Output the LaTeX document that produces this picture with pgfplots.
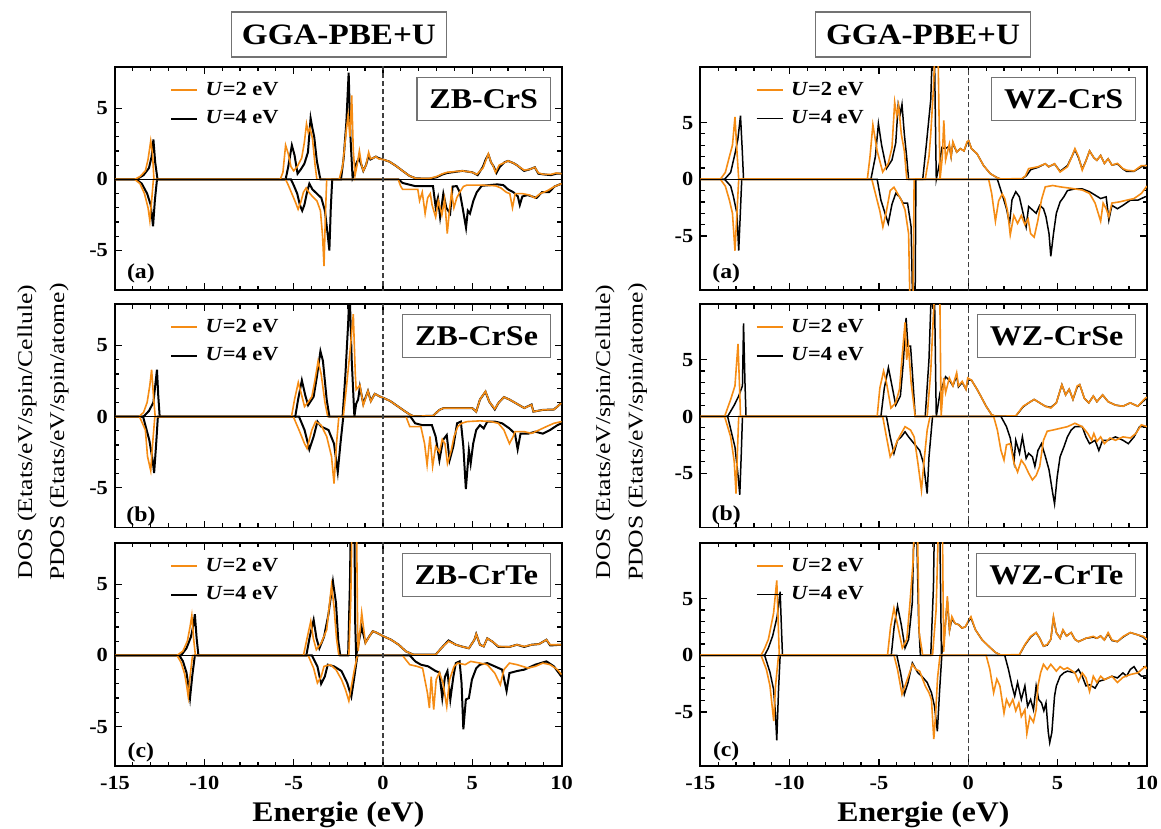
\documentclass[border=0pt]{standalone}
\usepackage{fontspec}
\setmainfont{Liberation Serif}[FakeStretch=1.12]
\usepackage{graphicx}
\usepackage{pgfplots}
\pgfplotsset{compat=1.18}
\definecolor{orng}{RGB}{245,140,20}

\pgfplotsset{
  ob/.style={orng, line width=0.8pt},
  obl/.style={orng, line width=1.1pt},
  kb/.style={black, line width=1pt},
  kbr/.style={black, line width=0.75pt},
  dospanel/.style={
    scale only axis, width=223.3pt, height=111.7pt,
    anchor=north west,
    xmin=-15, xmax=10,
    xtick={-15,-10,-5,0,5,10}, minor x tick num=4,
    ytick={-5,0,5}, minor y tick num=4,
    tick align=inside, tick pos=both,
    major tick length=3.5pt, minor tick length=2.2pt,
    every tick/.style={black, line width=0.6pt},
    axis line style={line width=0.9pt},
    ticklabel style={font=\fontsize{10}{12}\selectfont\bfseries},
    /pgf/number format/assume math mode=true,
    xticklabel style={yshift=-3.8pt, inner ysep=1pt},
    legend style={draw=none, fill=none, at={(0.1225,1)}, anchor=north west,
      inner xsep=0pt, inner ysep=5.3pt, row sep=2.2pt,
      font=\fontsize{10}{12}\selectfont\bfseries,
      nodes={inner ysep=2pt, inner xsep=3.7pt, text depth=0.15em}},
    legend cell align=left,
    legend image code/.code={\draw[#1] (0pt,0pt) -- (13pt,0pt);},
  },
  leftcol/.style={dospanel, ymin=-7.8, ymax=7.9},
  rightcol/.style={dospanel, ymin=-9.8, ymax=9.9},
  noxlabels/.style={xticklabels={}},
}

% reference lines: zero of the DOS and the Fermi level
\newcommand{\reflines}{%
  \addplot[black, line width=0.4pt, forget plot] coordinates {(-15,0) (10,0)};
  \addplot[black!75, line width=0.6pt, dash pattern=on 2.5pt off 1.5pt, forget plot] coordinates {(0,-12) (0,12)};
}
\newcommand{\panelbox}[1]{%
  \node[draw=black!55, line width=0.6pt, fill=white, anchor=north east,
    inner xsep=6.2pt, minimum height=21.5pt,
    font=\fontsize{14.3}{16}\selectfont\bfseries, xshift=-5.3pt, yshift=-5pt]
    at (rel axis cs:1,1) {#1};}
\newcommand{\panellabel}[2]{%
  \node[font=\fontsize{10.6}{12}\selectfont\bfseries, yshift=#2]
    at (rel axis cs:0.058,0) {#1};}
\newcommand{\ylab}[1]{\scalebox{1.093}[1]{#1}}

\begin{document}
\begin{tikzpicture}
\useasboundingbox (0,0) rectangle (580.5pt,414.5pt);

% ---------------- ZB-CrS ----------------
\begin{axis}[leftcol, noxlabels, at={(57.5pt,381pt)}]
\addplot[kb, forget plot] table[row sep=\\]{-15 0\\ -13.8 0\\ -13.4 0.3\\ -13.1 0.8\\ -12.95 1.6\\ -12.85 2.8\\ -12.75 1.2\\ -12.62 0\\ -5.45 0\\ -5.3 0.9\\ -5.1 2.4\\ -4.95 1.7\\ -4.78 0.4\\ -4.6 0.7\\ -4.4 1.1\\ -4.2 1.9\\ -4.05 4.3\\ -3.95 3.6\\ -3.85 3.0\\ -3.7 1.3\\ -3.55 0.3\\ -3.5 0\\ -2.35 0\\ -2.2 1.5\\ -2.05 4.0\\ -1.92 7.5\\ -1.82 3.0\\ -1.7 0.1\\ -1.6 0.4\\ -1.5 1.1\\ -1.35 1.5\\ -1.2 1.0\\ -1.1 0.6\\ -0.95 1.0\\ -0.8 1.7\\ -0.7 1.4\\ -0.55 1.5\\ -0.4 1.6\\ -0.25 1.5\\ 0 1.4\\ 0.36 1.25\\ 0.73 0.95\\ 1.1 0.6\\ 1.48 0.25\\ 1.85 0.07\\ 2.6 0.05\\ 3.0 0.15\\ 3.34 0.35\\ 3.6 0.45\\ 4.45 0.6\\ 5.0 0.5\\ 5.3 0.3\\ 5.6 0.9\\ 5.75 1.4\\ 5.9 1.75\\ 6.05 1.2\\ 6.2 0.9\\ 6.35 0.45\\ 6.55 0.9\\ 6.8 1.2\\ 7.0 1.3\\ 7.3 1.15\\ 7.5 1.0\\ 7.9 0.6\\ 8.2 0.7\\ 8.5 0.85\\ 8.7 0.4\\ 9.0 0.35\\ 9.4 0.3\\ 9.7 0.4\\ 10 0.4\\};
\addplot[kb, forget plot] table[row sep=\\]{-15 0\\ -13.8 0\\ -13.5 -0.3\\ -13.2 -1.0\\ -13.0 -1.8\\ -12.87 -3.3\\ -12.77 -1.5\\ -12.65 0\\ -5.15 0\\ -5.0 -0.4\\ -4.8 -1.0\\ -4.65 -1.8\\ -4.52 -2.2\\ -4.4 -1.8\\ -4.25 -0.9\\ -4.12 -0.3\\ -3.95 -0.7\\ -3.7 -1.0\\ -3.45 -1.3\\ -3.25 -2.2\\ -3.1 -3.8\\ -3.0 -5.0\\ -2.92 -2.0\\ -2.84 0\\ 0.87 0\\ 1.1 -0.25\\ 1.8 -0.47\\ 2.8 -0.47\\ 2.95 -1.95\\ 3.08 -1.3\\ 3.2 -2.65\\ 3.38 -1.0\\ 3.55 -2.0\\ 3.76 -2.4\\ 3.9 -0.5\\ 4.13 -0.47\\ 4.3 -0.9\\ 4.46 -2.0\\ 4.65 -3.4\\ 4.75 -2.2\\ 4.87 -2.4\\ 5.06 -1.5\\ 5.25 -0.9\\ 5.53 -0.45\\ 6.4 -0.35\\ 6.74 -0.4\\ 7.0 -0.7\\ 7.3 -0.9\\ 7.55 -1.2\\ 7.66 -1.8\\ 7.8 -1.2\\ 8.1 -1.1\\ 8.6 -1.3\\ 8.9 -0.9\\ 9.3 -0.9\\ 9.6 -0.5\\ 10 -0.3\\};
\addplot[ob, forget plot] table[row sep=\\]{-15 0\\ -13.9 0\\ -13.6 0.2\\ -13.3 0.6\\ -13.15 1.4\\ -13.0 2.7\\ -12.9 1.8\\ -12.82 0\\ -5.75 0\\ -5.6 0.5\\ -5.45 2.4\\ -5.3 1.8\\ -5.15 0.9\\ -5.0 0.6\\ -4.8 0.9\\ -4.55 1.5\\ -4.4 2.6\\ -4.28 3.9\\ -4.18 3.3\\ -4.08 3.6\\ -3.95 2.9\\ -3.8 1.0\\ -3.7 0\\ -2.45 0\\ -2.25 1.0\\ -2.05 3.5\\ -1.95 4.5\\ -1.85 3.0\\ -1.75 5.9\\ -1.66 2.0\\ -1.56 0.3\\ -1.45 1.0\\ -1.32 2.0\\ -1.2 1.0\\ -1.1 0.6\\ -0.95 1.0\\ -0.8 1.9\\ -0.7 1.45\\ -0.55 1.5\\ -0.4 1.6\\ -0.25 1.45\\ 0 1.4\\ 0.36 1.25\\ 0.73 0.95\\ 1.1 0.6\\ 1.48 0.25\\ 1.85 0.07\\ 2.6 0.07\\ 3.0 0.2\\ 3.34 0.4\\ 3.6 0.5\\ 4.45 0.6\\ 5.0 0.5\\ 5.25 0.35\\ 5.6 0.8\\ 5.75 1.3\\ 5.9 1.8\\ 6.05 1.2\\ 6.15 1.0\\ 6.3 0.5\\ 6.5 1.0\\ 6.75 1.15\\ 7.0 1.3\\ 7.3 1.15\\ 7.5 1.0\\ 7.9 0.65\\ 8.2 0.7\\ 8.5 0.85\\ 8.7 0.45\\ 9.0 0.35\\ 9.4 0.35\\ 9.7 0.45\\ 10 0.4\\};
\addplot[ob, forget plot] table[row sep=\\]{-15 0\\ -13.9 0\\ -13.6 -0.3\\ -13.35 -1.0\\ -13.15 -2.0\\ -13.05 -2.9\\ -12.95 -1.5\\ -12.85 0\\ -5.45 0\\ -5.3 -0.4\\ -5.1 -1.0\\ -4.9 -1.6\\ -4.75 -2.1\\ -4.6 -1.6\\ -4.45 -0.9\\ -4.3 -0.6\\ -4.15 -0.9\\ -3.95 -1.2\\ -3.7 -1.5\\ -3.5 -2.2\\ -3.38 -4.0\\ -3.3 -6.1\\ -3.22 -2.5\\ -3.15 0\\ 0.85 0\\ 1.0 -0.5\\ 1.1 -0.7\\ 1.95 -0.7\\ 2.05 -1.5\\ 2.2 -0.9\\ 2.36 -2.4\\ 2.5 -1.3\\ 2.65 -1.0\\ 2.75 -1.8\\ 2.95 -2.65\\ 3.1 -1.5\\ 3.3 -2.5\\ 3.45 -1.4\\ 3.6 -3.8\\ 3.72 -2.2\\ 3.84 -0.9\\ 3.97 -2.0\\ 4.13 -1.3\\ 4.3 -0.9\\ 4.5 -0.5\\ 4.7 -0.4\\ 5.5 -0.4\\ 6.3 -0.45\\ 6.6 -0.6\\ 6.9 -0.9\\ 7.1 -1.0\\ 7.25 -2.0\\ 7.4 -1.0\\ 7.8 -1.0\\ 8.2 -1.1\\ 8.5 -1.3\\ 8.8 -1.0\\ 9.2 -0.8\\ 9.6 -0.5\\ 10 -0.3\\};
\reflines
\addlegendimage{obl}\addlegendentry{\textit{U}=2 eV}
\addlegendimage{kb}\addlegendentry{\textit{U}=4 eV}
\panelbox{ZB-CrS}
\panellabel{(a)}{8.3pt}
\end{axis}

% ---------------- ZB-CrSe ----------------
\begin{axis}[leftcol, noxlabels, at={(57.5pt,262.4pt)}]
\addplot[kb, forget plot] table[row sep=\\]{-15 0\\ -13.4 0\\ -13.1 0.4\\ -12.85 1.0\\ -12.72 2.5\\ -12.65 3.3\\ -12.58 1.5\\ -12.5 0\\ -4.91 0\\ -4.75 1.2\\ -4.54 2.55\\ -4.35 1.5\\ -4.19 0.8\\ -3.88 1.4\\ -3.7 2.8\\ -3.5 4.6\\ -3.36 3.9\\ -3.15 1.2\\ -3.0 0\\ -2.26 0\\ -2.1 3.0\\ -1.95 6.5\\ -1.87 9.0\\ -1.75 4.0\\ -1.6 0\\ -1.5 0.9\\ -1.39 1.2\\ -1.29 2.1\\ -1.1 0.9\\ -0.84 1.8\\ -0.68 1.1\\ -0.46 1.6\\ -0.15 1.4\\ 0.05 1.3\\ 0.4 1.1\\ 0.8 0.75\\ 1.2 0.4\\ 1.5 0.15\\ 1.7 0.03\\ 2.8 0.05\\ 3.16 0.47\\ 3.4 0.6\\ 5.0 0.6\\ 5.22 0.35\\ 5.43 1.2\\ 5.74 1.75\\ 5.95 1.05\\ 6.26 0.5\\ 6.46 0.95\\ 6.77 1.37\\ 7.08 1.2\\ 7.5 0.9\\ 7.91 0.6\\ 8.32 0.85\\ 8.42 0.35\\ 8.95 0.47\\ 9.57 0.5\\ 9.98 0.94\\};
\addplot[kb, forget plot] table[row sep=\\]{-15 0\\ -13.43 0\\ -13.08 -1.65\\ -12.9 -3.0\\ -12.81 -3.96\\ -12.7 -2.0\\ -12.6 0\\ -4.7 0\\ -4.39 -0.94\\ -4.12 -2.3\\ -3.88 -1.4\\ -3.67 -0.35\\ -3.46 -0.7\\ -3.05 -0.94\\ -2.74 -1.9\\ -2.53 -3.9\\ -2.38 -1.9\\ -2.22 0\\ 1.54 0\\ 1.8 -0.47\\ 2.2 -0.6\\ 2.74 -0.6\\ 2.95 -1.4\\ 3.16 -3.07\\ 3.36 -1.65\\ 3.57 -1.3\\ 3.73 -3.07\\ 3.94 -2.1\\ 4.15 -0.47\\ 4.36 -0.35\\ 4.5 -2.1\\ 4.64 -5.1\\ 4.81 -2.36\\ 4.91 -3.3\\ 5.05 -1.9\\ 5.22 -0.94\\ 5.43 -0.6\\ 5.64 -0.83\\ 5.84 -0.35\\ 6.26 -0.35\\ 6.67 -0.47\\ 7.08 -0.83\\ 7.39 -1.2\\ 7.54 -2.3\\ 7.7 -1.2\\ 8.12 -1.2\\ 8.53 -1.06\\ 8.95 -1.2\\ 9.36 -0.94\\ 9.77 -0.6\\ 10 -0.47\\};
\addplot[ob, forget plot] table[row sep=\\]{-15 0\\ -13.65 0\\ -13.4 0.3\\ -13.2 1.0\\ -13.05 2.2\\ -12.95 3.3\\ -12.85 1.5\\ -12.75 0\\ -5.12 0\\ -4.95 1.2\\ -4.74 2.4\\ -4.55 1.5\\ -4.39 0.7\\ -4.2 1.0\\ -3.98 1.4\\ -3.8 2.6\\ -3.63 3.9\\ -3.46 3.0\\ -3.25 1.0\\ -3.09 0\\ -2.22 0\\ -2.05 2.0\\ -1.85 4.5\\ -1.66 7.2\\ -1.55 3.0\\ -1.5 1.9\\ -1.29 2.2\\ -1.1 0.8\\ -0.84 1.8\\ -0.68 1.06\\ -0.46 1.6\\ -0.15 1.4\\ 0.05 1.3\\ 0.4 1.1\\ 0.8 0.75\\ 1.2 0.4\\ 1.5 0.15\\ 1.7 0.03\\ 2.8 0.05\\ 3.16 0.47\\ 3.4 0.6\\ 5.0 0.6\\ 5.22 0.35\\ 5.43 1.2\\ 5.74 1.77\\ 5.95 1.05\\ 6.26 0.54\\ 6.46 0.95\\ 6.77 1.37\\ 7.08 1.2\\ 7.5 0.9\\ 7.91 0.6\\ 8.32 0.83\\ 8.42 0.35\\ 8.95 0.47\\ 9.57 0.5\\ 9.98 0.94\\};
\addplot[ob, forget plot] table[row sep=\\]{-15 0\\ -13.63 0\\ -13.3 -0.94\\ -13.18 -2.8\\ -13.0 -3.8\\ -12.9 -2.0\\ -12.77 0\\ -5.02 0\\ -4.7 -0.94\\ -4.39 -1.9\\ -4.25 -2.24\\ -3.98 -0.94\\ -3.77 -0.35\\ -3.46 -0.6\\ -3.15 -1.4\\ -2.88 -2.8\\ -2.74 -4.7\\ -2.6 -1.9\\ -2.47 0\\ 1.29 0\\ 1.5 -0.7\\ 2.12 -0.7\\ 2.33 -1.9\\ 2.47 -3.4\\ 2.63 -1.4\\ 2.78 -3.5\\ 2.95 -2.1\\ 3.16 -2.5\\ 3.32 -1.6\\ 3.47 -1.9\\ 3.61 -3.3\\ 3.82 -2.4\\ 3.98 -1.4\\ 4.19 -0.7\\ 4.4 -0.47\\ 4.71 -0.35\\ 5.43 -0.3\\ 6.05 -0.35\\ 6.46 -0.47\\ 6.77 -0.94\\ 7.08 -1.9\\ 7.29 -1.4\\ 7.39 -1.06\\ 7.91 -1.06\\ 8.32 -1.18\\ 8.74 -0.94\\ 9.15 -0.7\\ 9.57 -0.47\\ 10 -0.35\\};
\reflines
\addlegendimage{obl}\addlegendentry{\textit{U}=2 eV}
\addlegendimage{kb}\addlegendentry{\textit{U}=4 eV}
\panelbox{ZB-CrSe}
\panellabel{(b)}{5.6pt}
\end{axis}

% ---------------- ZB-CrTe ----------------
\begin{axis}[leftcol, at={(57.5pt,143pt)}]
\addplot[kb, forget plot] table[row sep=\\]{-15 0\\ -11.3 0\\ -11.0 0.5\\ -10.75 1.3\\ -10.6 2.2\\ -10.53 2.9\\ -10.43 1.2\\ -10.33 0\\ -4.29 0\\ -4.1 1.3\\ -3.88 2.5\\ -3.72 1.2\\ -3.56 0.5\\ -3.3 1.3\\ -3.05 2.9\\ -2.8 5.2\\ -2.63 3.7\\ -2.5 1.0\\ -2.39 0\\ -1.95 0\\ -1.85 5.0\\ -1.77 12\\ -1.62 12\\ -1.55 2.0\\ -1.5 0\\ -1.4 0.6\\ -1.2 2.0\\ -0.98 0.9\\ -0.77 1.33\\ -0.57 1.7\\ -0.36 1.6\\ -0.06 1.4\\ 0.05 1.33\\ 0.46 1.1\\ 0.88 0.75\\ 1.29 0.28\\ 1.71 0.05\\ 2.95 0.05\\ 3.26 0.5\\ 3.67 1.05\\ 4.08 0.75\\ 4.4 0.63\\ 4.81 0.5\\ 5.12 1.1\\ 5.22 1.5\\ 5.43 0.75\\ 5.64 0.63\\ 5.84 1.2\\ 6.15 0.95\\ 6.46 0.6\\ 7.08 0.6\\ 7.5 0.75\\ 7.91 0.6\\ 8.32 0.75\\ 8.74 0.8\\ 9.15 1.1\\ 9.36 0.7\\ 9.98 0.75\\};
\addplot[kb, forget plot] table[row sep=\\]{-15 0\\ -11.4 0\\ -11.2 -0.4\\ -11.0 -1.2\\ -10.88 -2.2\\ -10.8 -3.0\\ -10.68 -1.5\\ -10.53 0\\ -3.98 0\\ -3.67 -0.77\\ -3.46 -2.0\\ -3.26 -1.5\\ -3.09 -0.65\\ -2.74 -0.77\\ -2.32 -1.1\\ -2.0 -1.94\\ -1.77 -2.9\\ -1.6 -1.5\\ -1.43 0\\ 1.5 0\\ 1.81 -0.42\\ 2.12 -0.65\\ 2.53 -0.77\\ 2.95 -1.1\\ 3.16 -1.2\\ 3.32 -3.0\\ 3.47 -1.5\\ 3.61 -1.1\\ 3.77 -3.1\\ 3.94 -1.5\\ 4.08 -0.54\\ 4.29 -0.42\\ 4.4 -1.94\\ 4.5 -5.2\\ 4.64 -3.1\\ 4.81 -3.0\\ 4.98 -1.7\\ 5.22 -0.9\\ 5.43 -0.65\\ 5.84 -0.54\\ 6.26 -0.77\\ 6.67 -1.0\\ 6.92 -2.5\\ 7.08 -1.24\\ 7.5 -1.1\\ 7.91 -1.0\\ 8.53 -0.65\\ 9.15 -0.42\\ 9.57 -0.77\\ 10 -1.5\\};
\addplot[ob, forget plot] table[row sep=\\]{-15 0\\ -11.53 0\\ -11.2 0.3\\ -10.95 1.0\\ -10.8 2.0\\ -10.7 2.8\\ -10.6 1.2\\ -10.5 0\\ -4.45 0\\ -4.25 1.2\\ -4.04 2.4\\ -3.9 1.2\\ -3.73 0.4\\ -3.46 0.86\\ -3.15 1.8\\ -2.88 4.9\\ -2.74 3.4\\ -2.6 1.2\\ -2.47 0\\ -1.91 0\\ -1.8 4.0\\ -1.7 12\\ -1.5 12\\ -1.42 2.0\\ -1.39 0.3\\ -1.19 3.0\\ -0.98 0.86\\ -0.77 1.33\\ -0.57 1.7\\ -0.36 1.6\\ -0.06 1.4\\ 0.05 1.33\\ 0.46 1.1\\ 0.88 0.75\\ 1.29 0.28\\ 1.71 0.05\\ 2.95 0.05\\ 3.26 0.5\\ 3.67 1.0\\ 4.08 0.75\\ 4.4 0.63\\ 4.81 0.5\\ 5.12 1.1\\ 5.22 1.5\\ 5.43 0.75\\ 5.64 0.63\\ 5.84 1.2\\ 6.15 0.95\\ 6.46 0.63\\ 7.08 0.6\\ 7.5 0.75\\ 7.91 0.63\\ 8.32 0.75\\ 8.74 0.8\\ 9.15 1.1\\ 9.36 0.75\\ 9.98 0.75\\};
\addplot[ob, forget plot] table[row sep=\\]{-15 0\\ -11.53 0\\ -11.3 -0.5\\ -11.1 -1.3\\ -10.98 -2.2\\ -10.9 -2.9\\ -10.8 -1.5\\ -10.66 0\\ -4.19 0\\ -3.88 -0.9\\ -3.67 -1.94\\ -3.46 -1.5\\ -3.3 -0.77\\ -2.95 -0.65\\ -2.63 -1.0\\ -2.32 -1.7\\ -2.1 -2.4\\ -1.91 -3.2\\ -1.77 -2.2\\ -1.6 -1.0\\ -1.43 0\\ 1.09 0\\ 1.5 -0.65\\ 1.91 -0.77\\ 2.22 -0.9\\ 2.49 -2.64\\ 2.6 -3.7\\ 2.7 -1.5\\ 2.84 -3.8\\ 2.98 -1.7\\ 3.16 -1.2\\ 3.36 -1.94\\ 3.57 -3.6\\ 3.73 -1.7\\ 3.98 -0.77\\ 4.19 -0.54\\ 4.6 -0.65\\ 4.91 -0.42\\ 5.43 -0.54\\ 5.84 -0.65\\ 6.26 -1.25\\ 6.57 -2.06\\ 6.77 -1.0\\ 7.08 -0.54\\ 7.5 -0.65\\ 8.12 -0.89\\ 8.53 -0.77\\ 8.95 -0.54\\ 9.36 -0.65\\ 9.77 -1.0\\ 10 -1.35\\};
\reflines
\addlegendimage{orng, line width=0.7pt}\addlegendentry{\textit{U}=2 eV}
\addlegendimage{kb}\addlegendentry{\textit{U}=4 eV}
\panelbox{ZB-CrTe}
\panellabel{(c)}{7.2pt}
\end{axis}

% ---------------- WZ-CrS ----------------
\begin{axis}[rightcol, noxlabels, at={(350.15pt,381pt)}]
\addplot[kbr, forget plot] table[row sep=\\]{-15 0\\ -13.64 0\\ -13.3 0.6\\ -13.06 2.25\\ -12.9 3.5\\ -12.75 5.6\\ -12.65 2.5\\ -12.58 0\\ -5.45 0\\ -5.2 2.0\\ -5.03 4.9\\ -4.85 3.0\\ -4.58 0.94\\ -4.27 1.7\\ -4.06 3.2\\ -3.92 6.6\\ -3.8 5.8\\ -3.71 6.6\\ -3.58 4.0\\ -3.45 2.0\\ -3.34 0\\ -2.55 0\\ -2.35 3.0\\ -2.1 7.0\\ -2.0 12\\ -1.9 12\\ -1.82 3.0\\ -1.79 0\\ -1.6 1.5\\ -1.48 2.8\\ -1.3 2.7\\ -1.06 2.9\\ -0.96 2.0\\ -0.86 3.2\\ -0.65 2.4\\ -0.44 2.7\\ -0.24 2.5\\ -0.07 3.2\\ 0.02 3.4\\ 0.18 2.7\\ 0.49 2.25\\ 0.86 1.2\\ 1.23 0.5\\ 1.6 0.15\\ 1.8 0.03\\ 3.0 0.03\\ 3.25 0.3\\ 3.5 0.85\\ 3.9 1.05\\ 4.31 1.37\\ 4.5 1.1\\ 4.83 1.35\\ 5.14 0.7\\ 5.55 1.2\\ 5.8 2.0\\ 5.97 2.6\\ 6.17 1.9\\ 6.38 0.9\\ 6.58 1.6\\ 6.79 2.5\\ 7.03 1.9\\ 7.2 1.67\\ 7.41 2.1\\ 7.62 1.4\\ 7.83 1.8\\ 8.04 1.25\\ 8.35 1.35\\ 8.66 0.9\\ 8.86 0.7\\ 9.28 0.7\\ 9.69 1.1\\ 10 1.25\\};
\addplot[kbr, forget plot] table[row sep=\\]{-15 0\\ -13.64 0\\ -13.3 -0.6\\ -13.15 -1.5\\ -12.95 -3.0\\ -12.85 -6.3\\ -12.76 -3.0\\ -12.68 0\\ -5.1 0\\ -4.89 -1.84\\ -4.68 -2.9\\ -4.48 -3.9\\ -4.27 -2.2\\ -4.06 -1.25\\ -3.85 -1.55\\ -3.65 -2.1\\ -3.4 -2.1\\ -3.2 -4.2\\ -3.1 -12\\ -2.98 -12\\ -2.93 0\\ 1.63 0\\ 1.94 -1.55\\ 2.14 -2.6\\ 2.31 -3.9\\ 2.45 -1.8\\ 2.66 -1.1\\ 2.86 -1.55\\ 3.07 -3.0\\ 3.24 -4.2\\ 3.38 -2.4\\ 3.59 -2.7\\ 3.8 -3.0\\ 4.0 -2.3\\ 4.21 -2.6\\ 4.35 -3.3\\ 4.52 -4.8\\ 4.62 -6.8\\ 4.77 -4.8\\ 4.93 -3.0\\ 5.14 -2.0\\ 5.35 -1.55\\ 5.55 -1.0\\ 5.97 -0.85\\ 6.38 -0.85\\ 6.79 -1.1\\ 7.1 -1.4\\ 7.41 -1.7\\ 7.72 -1.55\\ 7.87 -3.6\\ 8.04 -2.3\\ 8.35 -2.6\\ 8.66 -2.3\\ 9.07 -1.85\\ 9.49 -1.85\\ 9.9 -1.55\\ 10 -1.5\\};
\addplot[ob, forget plot] table[row sep=\\]{-15 0\\ -13.88 0\\ -13.6 0.6\\ -13.37 2.0\\ -13.2 3.0\\ -13.06 5.5\\ -12.95 2.5\\ -12.85 0\\ -5.65 0\\ -5.5 2.0\\ -5.34 4.8\\ -5.1 2.5\\ -4.79 0.64\\ -4.48 1.4\\ -4.27 2.8\\ -4.12 6.8\\ -4.0 5.6\\ -3.9 6.5\\ -3.75 4.0\\ -3.58 2.5\\ -3.44 0\\ -2.41 0\\ -2.2 2.0\\ -2.1 4.0\\ -1.95 8.0\\ -1.85 12\\ -1.7 12\\ -1.62 4.0\\ -1.58 0\\ -1.45 2.0\\ -1.37 5.2\\ -1.27 1.7\\ -1.06 3.1\\ -0.96 2.0\\ -0.86 3.3\\ -0.65 2.4\\ -0.44 2.7\\ -0.24 2.5\\ -0.07 3.3\\ 0.02 3.4\\ 0.18 2.7\\ 0.49 2.25\\ 0.86 1.2\\ 1.23 0.5\\ 1.6 0.15\\ 1.8 0.03\\ 3.0 0.05\\ 3.2 0.3\\ 3.38 0.94\\ 3.9 1.1\\ 4.31 1.37\\ 4.5 1.1\\ 4.83 1.37\\ 5.14 0.64\\ 5.55 1.1\\ 5.8 2.0\\ 5.97 2.7\\ 6.17 2.0\\ 6.38 0.8\\ 6.58 1.6\\ 6.79 2.5\\ 7.03 1.9\\ 7.2 1.67\\ 7.41 2.1\\ 7.62 1.4\\ 7.83 1.8\\ 8.04 1.25\\ 8.35 1.4\\ 8.66 0.94\\ 8.86 0.8\\ 9.28 0.73\\ 9.69 1.2\\ 10 1.2\\};
\addplot[ob, forget plot] table[row sep=\\]{-15 0\\ -13.88 0\\ -13.6 -0.6\\ -13.37 -1.85\\ -13.2 -3.0\\ -13.06 -6.3\\ -12.95 -3.0\\ -12.85 0\\ -5.4 0\\ -5.2 -1.25\\ -4.95 -2.8\\ -4.78 -4.2\\ -4.58 -2.8\\ -4.37 -1.0\\ -4.16 -0.7\\ -3.96 -1.25\\ -3.75 -1.84\\ -3.54 -2.7\\ -3.34 -4.8\\ -3.25 -12\\ -3.1 -12\\ -3.03 0\\ 1.14 0\\ 1.31 -1.25\\ 1.52 -3.7\\ 1.7 -1.9\\ 1.9 -1.3\\ 2.04 -1.7\\ 2.2 -2.8\\ 2.35 -4.9\\ 2.55 -3.2\\ 2.76 -3.9\\ 2.97 -3.2\\ 3.17 -4.0\\ 3.35 -3.5\\ 3.49 -4.8\\ 3.69 -5.1\\ 3.9 -3.6\\ 4.1 -1.8\\ 4.31 -0.67\\ 4.73 -0.55\\ 5.14 -0.67\\ 5.76 -0.8\\ 6.38 -0.95\\ 6.79 -1.25\\ 7.1 -2.1\\ 7.41 -3.7\\ 7.55 -2.1\\ 7.72 -2.6\\ 7.87 -3.3\\ 8.04 -2.1\\ 8.45 -2.0\\ 8.86 -1.85\\ 9.28 -1.7\\ 9.69 -1.25\\ 10 -0.6\\};
\reflines
\addlegendimage{obl}\addlegendentry{\textit{U}=2 eV}
\addlegendimage{kbr}\addlegendentry{\textit{U}=4 eV}
\panelbox{WZ-CrS}
\panellabel{(a)}{8.3pt}
\end{axis}

% ---------------- WZ-CrSe ----------------
\begin{axis}[rightcol, noxlabels, at={(350.15pt,262.4pt)}]
\addplot[kbr, forget plot] table[row sep=\\]{-15 0\\ -13.47 0\\ -13.1 1.0\\ -12.85 1.8\\ -12.64 2.7\\ -12.58 8.2\\ -12.5 3.0\\ -12.44 0\\ -4.89 0\\ -4.7 2.5\\ -4.47 4.3\\ -4.27 2.7\\ -4.06 1.0\\ -3.8 1.8\\ -3.64 4.7\\ -3.48 8.7\\ -3.38 6.2\\ -3.23 6.2\\ -3.13 3.9\\ -2.97 0\\ -2.41 0\\ -2.2 5.0\\ -2.05 12\\ -1.9 12\\ -1.82 3.0\\ -1.79 0\\ -1.58 2.1\\ -1.27 3.5\\ -1.06 3.2\\ -0.86 2.7\\ -0.65 3.6\\ -0.55 2.6\\ -0.34 3.0\\ -0.13 2.4\\ -0.03 3.2\\ 0.18 3.2\\ 0.49 2.4\\ 0.8 1.5\\ 1.0 0.9\\ 1.31 0.15\\ 1.52 0.02\\ 2.66 0.03\\ 3.07 0.85\\ 3.38 1.2\\ 3.69 1.5\\ 4.0 1.2\\ 4.31 0.9\\ 4.62 0.8\\ 4.93 1.2\\ 5.24 2.8\\ 5.45 1.9\\ 5.65 2.4\\ 5.86 1.5\\ 6.1 2.6\\ 6.24 2.8\\ 6.5 1.6\\ 6.75 1.2\\ 7.0 1.8\\ 7.2 1.3\\ 7.52 1.9\\ 7.83 1.3\\ 8.24 1.0\\ 8.66 0.9\\ 9.07 1.2\\ 9.49 0.9\\ 9.9 1.5\\ 10 1.6\\};
\addplot[kbr, forget plot] table[row sep=\\]{-15 0\\ -13.47 0\\ -13.06 -2.7\\ -12.9 -5.0\\ -12.79 -6.9\\ -12.7 -3.0\\ -12.64 0\\ -4.58 0\\ -4.37 -1.8\\ -4.16 -3.25\\ -3.96 -2.1\\ -3.75 -1.8\\ -3.54 -1.35\\ -3.34 -1.8\\ -3.03 -2.4\\ -2.72 -3.0\\ -2.51 -4.1\\ -2.3 -6.8\\ -2.2 -3.6\\ -2.0 0\\ 1.83 0\\ 2.14 -0.9\\ 2.35 -1.9\\ 2.56 -4.0\\ 2.66 -2.1\\ 2.87 -3.25\\ 3.03 -1.8\\ 3.24 -3.7\\ 3.38 -3.25\\ 3.59 -3.55\\ 3.73 -4.4\\ 3.9 -3.0\\ 4.1 -2.4\\ 4.31 -3.5\\ 4.52 -4.7\\ 4.73 -6.8\\ 4.83 -7.7\\ 4.98 -5.3\\ 5.14 -3.55\\ 5.35 -2.7\\ 5.55 -1.8\\ 5.76 -1.2\\ 5.97 -0.9\\ 6.38 -0.9\\ 6.59 -1.8\\ 6.79 -2.4\\ 7.1 -2.1\\ 7.31 -3.0\\ 7.52 -2.1\\ 7.83 -2.1\\ 8.24 -1.8\\ 8.66 -2.1\\ 8.96 -2.4\\ 9.28 -1.8\\ 9.59 -0.9\\ 10 -0.9\\};
\addplot[ob, forget plot] table[row sep=\\]{-15 0\\ -13.64 0\\ -13.3 1.5\\ -13.06 2.7\\ -12.89 6.4\\ -12.8 2.5\\ -12.75 0\\ -5.1 0\\ -4.95 2.5\\ -4.74 4.0\\ -4.58 3.0\\ -4.33 0.74\\ -4.06 1.2\\ -3.85 2.4\\ -3.7 5.3\\ -3.54 8.3\\ -3.45 5.0\\ -3.35 6.2\\ -3.2 3.0\\ -2.97 0\\ -2.3 0\\ -2.1 4.0\\ -1.95 9.0\\ -1.85 12\\ -1.6 12\\ -1.52 0\\ -1.37 3.4\\ -1.27 2.1\\ -1.06 3.4\\ -0.86 2.7\\ -0.65 3.85\\ -0.55 2.7\\ -0.34 3.1\\ -0.13 2.4\\ -0.03 3.4\\ 0.18 3.2\\ 0.49 2.4\\ 0.8 1.5\\ 1.0 0.9\\ 1.31 0.15\\ 1.52 0.02\\ 2.66 0.05\\ 3.07 0.9\\ 3.38 1.2\\ 3.69 1.5\\ 4.0 1.2\\ 4.31 0.9\\ 4.62 0.74\\ 4.93 1.2\\ 5.24 2.8\\ 5.45 1.9\\ 5.65 2.4\\ 5.86 1.5\\ 6.1 2.7\\ 6.24 2.8\\ 6.5 1.6\\ 6.75 1.2\\ 7.0 1.8\\ 7.2 1.3\\ 7.52 1.9\\ 7.83 1.3\\ 8.24 1.0\\ 8.66 0.9\\ 9.07 1.2\\ 9.49 0.9\\ 9.9 1.6\\ 10 1.7\\};
\addplot[ob, forget plot] table[row sep=\\]{-15 0\\ -13.64 0\\ -13.3 -1.8\\ -13.1 -4.0\\ -13.0 -6.8\\ -12.92 -3.0\\ -12.85 0\\ -4.79 0\\ -4.58 -1.8\\ -4.37 -3.55\\ -4.16 -2.9\\ -3.96 -2.1\\ -3.75 -1.5\\ -3.54 -0.9\\ -3.23 -1.2\\ -3.03 -1.8\\ -2.82 -4.1\\ -2.62 -6.5\\ -2.48 -4.0\\ -2.3 -1.2\\ -2.14 0\\ 1.42 0\\ 1.63 -1.2\\ 1.83 -3.0\\ 2.0 -3.85\\ 2.14 -2.5\\ 2.35 -2.4\\ 2.56 -4.1\\ 2.76 -4.9\\ 2.97 -3.85\\ 3.17 -4.3\\ 3.38 -5.0\\ 3.59 -5.6\\ 3.8 -5.2\\ 4.0 -4.4\\ 4.21 -2.1\\ 4.42 -1.3\\ 4.73 -1.2\\ 5.14 -1.05\\ 5.55 -0.9\\ 5.97 -0.6\\ 6.38 -0.9\\ 6.69 -1.5\\ 6.9 -2.1\\ 7.03 -1.5\\ 7.2 -2.2\\ 7.41 -1.8\\ 7.62 -2.4\\ 7.93 -1.9\\ 8.24 -2.1\\ 8.66 -1.8\\ 9.07 -1.9\\ 9.38 -1.5\\ 9.69 -0.74\\ 10 -0.9\\};
\reflines
\addlegendimage{obl}\addlegendentry{\textit{U}=2 eV}
\addlegendimage{kbr}\addlegendentry{\textit{U}=4 eV}
\panelbox{WZ-CrSe}
\panellabel{(b)}{6.3pt}
\end{axis}

% ---------------- WZ-CrTe ----------------
\begin{axis}[rightcol, at={(350.15pt,143pt)}]
\addplot[kbr, forget plot] table[row sep=\\]{-15 0\\ -11.4 0\\ -11.2 0.6\\ -10.95 1.7\\ -10.7 3.4\\ -10.53 5.6\\ -10.46 2.5\\ -10.4 0\\ -4.31 0\\ -4.15 2.5\\ -3.96 4.35\\ -3.75 2.7\\ -3.54 0.64\\ -3.34 1.4\\ -3.13 4.7\\ -3.03 12\\ -2.9 12\\ -2.78 3.0\\ -2.68 0\\ -2.1 0\\ -1.95 6.0\\ -1.89 12\\ -1.6 12\\ -1.52 2.0\\ -1.5 0\\ -1.38 1.0\\ -1.17 4.8\\ -1.05 2.2\\ -0.92 3.2\\ -0.73 2.8\\ -0.54 2.7\\ -0.35 2.4\\ -0.17 2.5\\ 0.02 3.0\\ 0.15 3.3\\ 0.4 2.25\\ 0.77 1.37\\ 1.14 0.8\\ 1.51 0.26\\ 1.8 0.03\\ 2.86 0.03\\ 3.17 0.9\\ 3.49 1.6\\ 3.8 2.0\\ 4.0 1.5\\ 4.21 0.8\\ 4.42 0.9\\ 4.62 1.4\\ 4.77 3.3\\ 4.93 2.0\\ 5.14 1.5\\ 5.3 2.2\\ 5.5 1.7\\ 5.76 2.0\\ 5.97 1.4\\ 6.17 1.2\\ 6.59 1.5\\ 7.0 1.6\\ 7.2 1.5\\ 7.41 1.7\\ 7.62 1.35\\ 7.83 1.9\\ 8.04 1.3\\ 8.35 1.2\\ 8.66 1.6\\ 9.07 2.0\\ 9.49 1.8\\ 9.8 1.6\\ 10 1.3\\};
\addplot[kbr, forget plot] table[row sep=\\]{-15 0\\ -11.4 0\\ -11.1 -1.5\\ -10.9 -3.0\\ -10.8 -5.0\\ -10.72 -7.5\\ -10.62 -3.0\\ -10.53 0\\ -4.0 0\\ -3.79 -1.55\\ -3.58 -3.45\\ -3.37 -2.4\\ -3.13 -0.67\\ -2.82 -1.55\\ -2.6 -1.85\\ -2.3 -2.4\\ -2.06 -3.3\\ -1.89 -4.5\\ -1.73 -6.7\\ -1.6 -3.0\\ -1.48 0\\ 2.04 0\\ 2.25 -1.25\\ 2.45 -2.7\\ 2.6 -3.6\\ 2.76 -2.4\\ 2.97 -3.9\\ 3.17 -2.7\\ 3.32 -4.5\\ 3.49 -3.9\\ 3.65 -4.8\\ 3.8 -2.7\\ 3.94 -3.9\\ 4.1 -4.2\\ 4.23 -4.9\\ 4.35 -4.2\\ 4.48 -6.8\\ 4.56 -7.7\\ 4.68 -6.8\\ 4.83 -3.6\\ 4.93 -2.7\\ 5.14 -1.85\\ 5.35 -1.55\\ 5.55 -1.4\\ 5.97 -1.55\\ 6.17 -1.25\\ 6.38 -1.85\\ 6.59 -2.7\\ 6.79 -2.6\\ 7.1 -2.9\\ 7.31 -2.3\\ 7.62 -2.15\\ 8.04 -1.85\\ 8.35 -2.0\\ 8.66 -1.55\\ 8.86 -1.85\\ 9.07 -1.25\\ 9.28 -1.0\\ 9.49 -1.55\\ 9.69 -1.85\\ 10 -1.8\\};
\addplot[ob, forget plot] table[row sep=\\]{-15 0\\ -11.6 0\\ -11.4 0.6\\ -11.19 1.4\\ -10.9 3.7\\ -10.72 6.6\\ -10.65 3.4\\ -10.58 0\\ -4.52 0\\ -4.35 2.5\\ -4.16 4.15\\ -3.96 2.7\\ -3.69 0.64\\ -3.44 1.4\\ -3.28 4.3\\ -3.1 8.0\\ -3.0 12\\ -2.85 12\\ -2.75 2.0\\ -2.55 0\\ -2.0 0\\ -1.8 4.0\\ -1.66 12\\ -1.45 12\\ -1.38 0.3\\ -1.17 5.2\\ -1.05 2.2\\ -0.92 3.4\\ -0.73 2.8\\ -0.54 2.7\\ -0.35 2.4\\ -0.17 2.5\\ 0.02 3.1\\ 0.15 3.4\\ 0.4 2.25\\ 0.77 1.37\\ 1.14 0.8\\ 1.51 0.26\\ 1.8 0.03\\ 2.86 0.05\\ 3.17 0.94\\ 3.49 1.67\\ 3.8 2.0\\ 4.0 1.5\\ 4.21 0.8\\ 4.42 0.95\\ 4.62 1.4\\ 4.77 3.4\\ 4.93 2.0\\ 5.14 1.5\\ 5.3 2.25\\ 5.5 1.7\\ 5.76 2.0\\ 5.97 1.4\\ 6.17 1.2\\ 6.59 1.5\\ 7.0 1.67\\ 7.2 1.5\\ 7.41 1.7\\ 7.62 1.35\\ 7.83 2.0\\ 8.04 1.35\\ 8.35 1.2\\ 8.66 1.65\\ 9.07 2.0\\ 9.49 1.8\\ 9.8 1.67\\ 10 1.4\\};
\addplot[ob, forget plot] table[row sep=\\]{-15 0\\ -11.6 0\\ -11.3 -1.25\\ -11.1 -2.7\\ -10.89 -5.8\\ -10.79 -2.7\\ -10.62 0\\ -4.16 0\\ -3.96 -1.25\\ -3.71 -3.45\\ -3.54 -2.7\\ -3.34 -1.8\\ -3.13 -0.8\\ -2.93 -1.25\\ -2.72 -1.4\\ -2.41 -2.7\\ -2.2 -3.3\\ -2.06 -3.9\\ -1.93 -7.4\\ -1.83 -5.3\\ -1.72 -2.0\\ -1.58 0\\ 1.0 0\\ 1.21 -1.25\\ 1.42 -3.3\\ 1.6 -2.1\\ 1.77 -2.7\\ 2.0 -5.1\\ 2.14 -3.9\\ 2.31 -4.5\\ 2.49 -3.9\\ 2.66 -4.9\\ 2.83 -4.2\\ 2.97 -5.4\\ 3.17 -4.8\\ 3.28 -6.9\\ 3.45 -5.4\\ 3.65 -5.9\\ 3.8 -4.8\\ 3.9 -2.7\\ 4.05 -1.55\\ 4.21 -0.8\\ 4.42 -1.25\\ 4.62 -0.8\\ 4.93 -1.4\\ 5.14 -1.0\\ 5.35 -1.25\\ 5.55 -1.1\\ 5.97 -1.55\\ 6.17 -2.3\\ 6.38 -1.55\\ 6.59 -2.0\\ 6.79 -3.2\\ 7.0 -1.85\\ 7.2 -2.4\\ 7.41 -1.85\\ 7.62 -2.15\\ 8.04 -1.85\\ 8.35 -2.4\\ 8.66 -1.95\\ 9.07 -1.7\\ 9.49 -1.55\\ 9.9 -1.0\\ 10 -1.2\\};
\reflines
\addlegendimage{obl}\addlegendentry{\textit{U}=2 eV}
\addlegendimage{kbr}\addlegendentry{\textit{U}=4 eV}
\panelbox{WZ-CrTe}
\panellabel{(c)}{7.6pt}
\end{axis}

% column titles
\node[draw=black!55, line width=0.6pt, inner xsep=5.4pt, minimum height=22.5pt,
  font=\fontsize{14.8}{17}\selectfont\bfseries] at (169.45pt,397.25pt) {GGA-PBE+U};
\node[draw=black!55, line width=0.6pt, inner xsep=5.4pt, minimum height=22.5pt,
  font=\fontsize{14.8}{17}\selectfont\bfseries] at (461.5pt,397.25pt) {GGA-PBE+U};

% axis titles
\node[inner sep=0pt, font=\fontsize{14.2}{16}\selectfont\bfseries] at (169.2pt,7.2pt) {Energie (eV)};
\node[inner sep=0pt, font=\fontsize{14.2}{16}\selectfont\bfseries] at (461.7pt,7.2pt) {Energie (eV)};
\node[rotate=90, font=\fontsize{10.5}{12}\selectfont] at (13.5pt,198.5pt) {\ylab{DOS (Etats/eV/spin/Cellule)}};
\node[rotate=90, font=\fontsize{10.5}{12}\selectfont] at (29.5pt,198.5pt) {\ylab{PDOS (Etats/eV/spin/atome)}};
\node[rotate=90, font=\fontsize{10.5}{12}\selectfont] at (302.5pt,198.5pt) {\ylab{DOS (Etats/eV/spin/Cellule)}};
\node[rotate=90, font=\fontsize{10.5}{12}\selectfont] at (318.75pt,198.5pt) {\ylab{PDOS (Etats/eV/spin/atome)}};
\end{tikzpicture}
\end{document}
